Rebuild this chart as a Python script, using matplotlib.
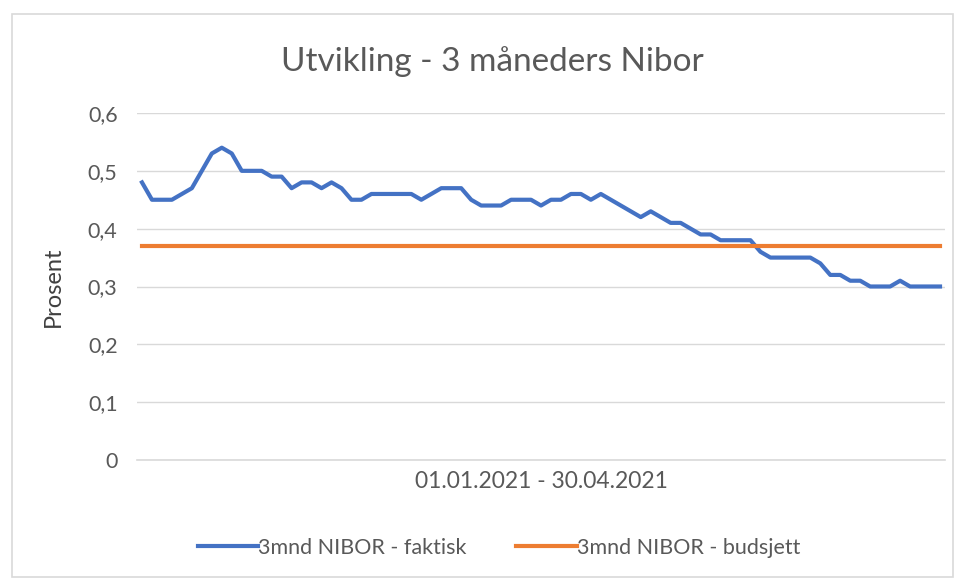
import matplotlib
matplotlib.use("Agg")
import matplotlib.pyplot as plt
from matplotlib.patches import Rectangle
import numpy as np

plt.rcParams['font.family'] = ['Lato', 'DejaVu Sans']

title = "Utvikling - 3 måneders Nibor"
y_label = "Prosent"
x_category = "01.01.2021 - 30.04.2021"
series_actual_name = "3mnd NIBOR - faktisk"
series_budget_name = "3mnd NIBOR - budsjett"

nibor_actual = [
    0.48, 0.45, 0.45, 0.45, 0.46, 0.47, 0.50, 0.53, 0.54, 0.53,
    0.50, 0.50, 0.50, 0.49, 0.49, 0.47, 0.48, 0.48, 0.47, 0.48,
    0.47, 0.45, 0.45, 0.46, 0.46, 0.46, 0.46, 0.46, 0.45, 0.46,
    0.47, 0.47, 0.47, 0.45, 0.44, 0.44, 0.44, 0.45, 0.45, 0.45,
    0.44, 0.45, 0.45, 0.46, 0.46, 0.45, 0.46, 0.45, 0.44, 0.43,
    0.42, 0.43, 0.42, 0.41, 0.41, 0.40, 0.39, 0.39, 0.38, 0.38,
    0.38, 0.38, 0.36, 0.35, 0.35, 0.35, 0.35, 0.35, 0.34, 0.32,
    0.32, 0.31, 0.31, 0.30, 0.30, 0.30, 0.31, 0.30, 0.30, 0.30,
    0.30,
]
nibor_budget = [0.37] * len(nibor_actual)
y_ticks = [0, 0.1, 0.2, 0.3, 0.4, 0.5, 0.6]
y_tick_labels = ["0", "0,1", "0,2", "0,3", "0,4", "0,5", "0,6"]

W, H = 962, 584
fig = plt.figure(figsize=(W / 100, H / 100), dpi=100)
fig.patch.set_facecolor("white")

# chart border
fig.patches.append(Rectangle((12 / W, 1 - 577 / H), (953 - 12) / W, (577 - 14) / H,
                             transform=fig.transFigure, fill=False,
                             edgecolor="#d9d9d9", linewidth=1.2))

ax = fig.add_axes([137 / W, 1 - 460 / H, (945 - 137) / W, (460 - 113) / H])
n = len(nibor_actual)
x = np.arange(n)
text_color = "#595959"

ax.plot(x, nibor_actual, color="#4472C4", linewidth=3, solid_joinstyle="round",
        label=series_actual_name, zorder=3)
ax.plot(x, nibor_budget, color="#ED7D31", linewidth=3,
        label=series_budget_name, zorder=3)

ax.set_xlim(-0.5, n - 0.5)
ax.set_ylim(0, 0.6)
ax.set_yticks(y_ticks)
ax.set_yticklabels(y_tick_labels)
ax.set_xticks([(n - 1) / 2])
ax.set_xticklabels([x_category])
ax.tick_params(axis="y", length=0, labelsize=15.5, colors=text_color, pad=14)
ax.tick_params(axis="x", length=0, labelsize=16.5, colors=text_color, pad=8)
ax.grid(axis="y", color="#d9d9d9", linewidth=1)
ax.set_axisbelow(True)
for s in ["top", "right", "left"]:
    ax.spines[s].set_visible(False)
ax.spines["bottom"].set_color("#d9d9d9")
ax.spines["bottom"].set_linewidth(1.2)

ax.set_ylabel(y_label, fontsize=17, color="#404040")
ax.yaxis.set_label_coords((64 - 137) / (945 - 137), (460 - 287) / (460 - 113))
fig.text(492 / W, 1 - 62 / H, title, ha="center", va="center",
         fontsize=24, color=text_color)

leg = fig.legend(loc="center", bbox_to_anchor=(499 / W, 1 - 548 / H), ncol=2,
                 frameon=False, fontsize=15.5, handlelength=2.8, handletextpad=0.0,
                 columnspacing=2.3)
for t in leg.get_texts():
    t.set_color(text_color)

fig.savefig("out.png", dpi=100)
